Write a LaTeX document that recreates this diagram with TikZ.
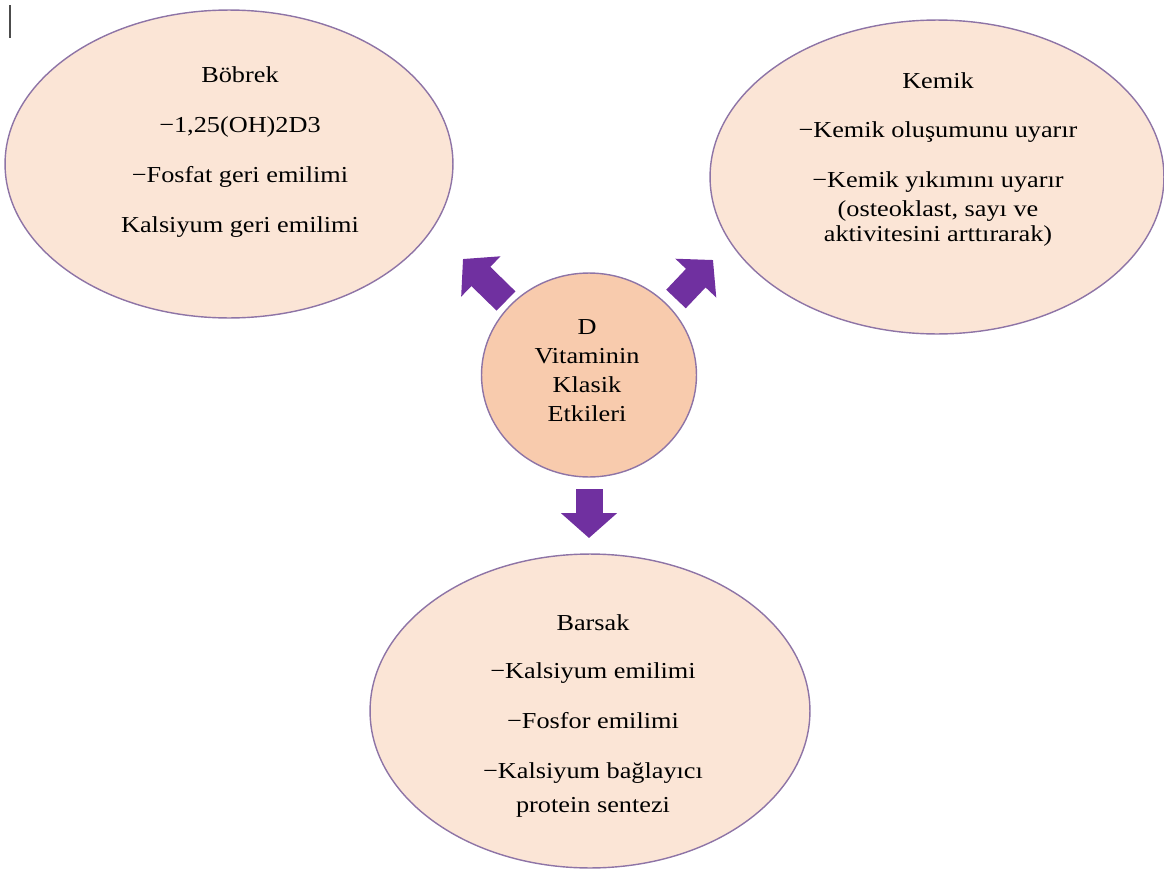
\documentclass[tikz,border=0pt]{standalone}
\usepackage{fontspec}
\setmainfont{Liberation Serif}[FakeStretch=1.15]
\usepackage{xcolor}
\usepackage{tikz}
\usetikzlibrary{shapes.geometric,arrows.meta}
\definecolor{organfill}{HTML}{FBE5D6}
\definecolor{corefill}{HTML}{F8CBAD}
\definecolor{rimline}{HTML}{8E74A6}
\definecolor{arrowpurple}{HTML}{7030A0}

\begin{document}
\begin{tikzpicture}[x=0.02cm, y=-0.02cm,
	organ/.style={ellipse, draw=rimline, fill=organfill, line width=0.8pt, inner sep=0pt},
	effect/.style={align=center, anchor=north, inner sep=0pt, font=\fontsize{13}{14.5}\selectfont},
	bigarrow/.style={arrowpurple, line width=0.54cm, -{Triangle[width=1.1cm,length=0.5cm]}}]
			\useasboundingbox (0,0) rectangle (1164,869);
			% arrow ends
			\coordinate (la) at (506,301);
			\coordinate (lb) at (463,259);
			\coordinate (ra) at (676,299);
			\coordinate (rb) at (713,260);
			\coordinate (da) at (589,489);
			\coordinate (db) at (589,538);
			% 
			\draw[gray!60!black, line width=1.2pt] (10,5) -- (10,38);
			% the three organs and the centre
			\node[organ, minimum width=8.96cm, minimum height=6.16cm] (bobrek) at (229,164) {};
			\node[organ, minimum width=9.08cm, minimum height=6.28cm] (kemik) at (937,177) {};
			\node[organ, minimum width=8.8cm, minimum height=6.28cm] (barsak) at (590,711) {};
			\node[organ, fill=corefill, minimum width=4.3cm, minimum height=4.08cm] (core) at (589,375) {};
			% texts
			\node[effect] (bobrektext) at (240,66) {Böbrek\\[14pt]
				−1,25(OH)2D3\\[14pt]
				−Fosfat geri emilimi\\[14pt]
				Kalsiyum geri emilimi};
			\node[effect] (kemiktext) at (938,72) {Kemik\\[13.5pt]
				−Kemik oluşumunu uyarır\\[14pt]
				−Kemik yıkımını uyarır\\[2pt]
				(osteoklast, sayı ve\\
				aktivitesini arttırarak)};
			\node[effect] (barsaktext) at (593,614) {Barsak\\[13pt]
				−Kalsiyum emilimi\\[14pt]
				−Fosfor emilimi\\[14pt]
				−Kalsiyum bağlayıcı\\[5pt]
				protein sentezi};
			\node[effect, font=\fontsize{13}{16.5}\selectfont] (coretext) at (587,319) {D\\
				Vitaminin\\
				Klasik\\
				Etkileri};
			% block arrows
			\draw[bigarrow] (la) -- (lb);
			\draw[bigarrow] (ra) -- (rb);
			\draw[bigarrow] (da) -- (db);
		\end{tikzpicture}
\end{document}
